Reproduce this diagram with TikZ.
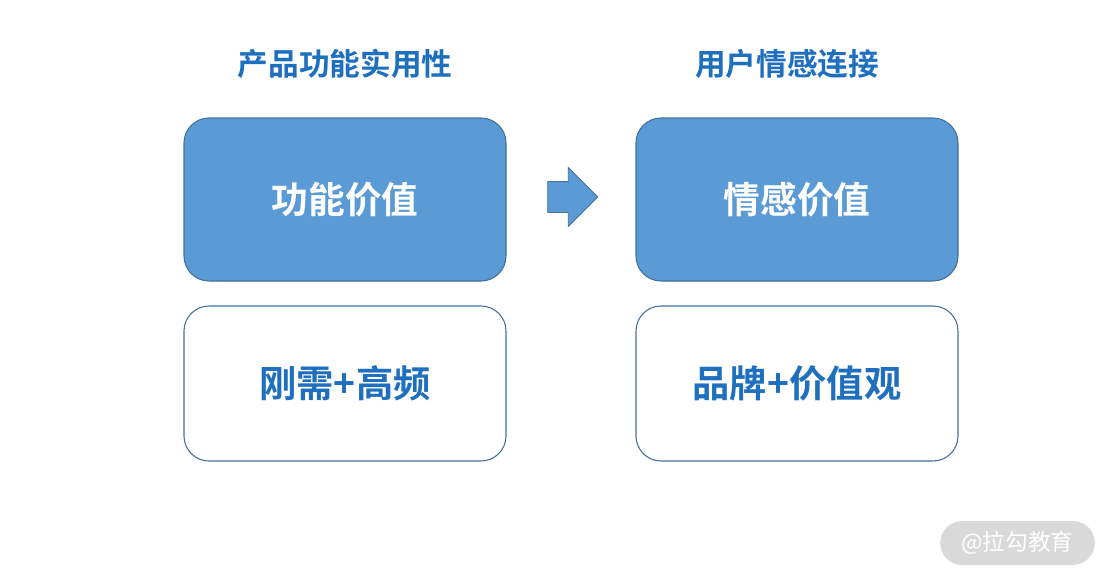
\documentclass[tikz,border=0pt]{standalone}
\usepackage{fontspec}
\newfontfamily\cjk{Noto Sans CJK SC}
\newfontfamily\cjkb{Noto Sans CJK SC Bold}
\usepackage{tikz}
\usetikzlibrary{shapes.arrows, positioning}
\definecolor{valblue}{HTML}{5B9BD5}
\definecolor{edgeblue}{HTML}{41719C}
\definecolor{txtblue}{HTML}{1F6FBF}
\definecolor{markgray}{HTML}{D9D9D9}

\begin{document}
\begin{tikzpicture}[x=0.75pt, y=-0.75pt,
    valbox/.style={draw=edgeblue, fill=valblue, line width=0.8pt, rounded corners=18.75pt,
        minimum width=241.5pt, minimum height=122.25pt, text=white, font=\cjkb\fontsize{27.5}{30}\selectfont},
    tagbox/.style={draw=edgeblue, fill=white, line width=0.8pt, rounded corners=18.75pt,
        minimum width=241.5pt, minimum height=116.25pt, text=txtblue, font=\cjkb\fontsize{28}{30}\selectfont},
    headline/.style={text=txtblue, font=\cjkb\fontsize{23}{26}\selectfont}]
                \useasboundingbox (0,0) rectangle (1110,579);
                % column titles
                \node[headline] (useT) at (345,64) {产品功能实用性};
                \node[headline] (emoT) at (787,64) {用户情感连接};
                % value boxes
                \node[valbox] (useV) at (345,199.5) {功能价值};
                \node[valbox] (emoV) at (797,199.5) {情感价值};
                \node[tagbox] (useK) at (345,383.5) {刚需+高频};
                \node[tagbox] (emoK) at (797,383.5) {品牌+价值观};
                % shift arrow
                \node[single arrow, draw=edgeblue, fill=valblue, line width=0.6pt, inner xsep=0pt, inner ysep=11.25pt,
                    minimum height=37.5pt, minimum width=43.5pt, single arrow head extend=10.5pt] (shift) at (565,197) {};
                % watermark
                \node[fill=markgray, rounded corners=16.5pt, minimum width=116pt, minimum height=33pt,
                    text=white, font=\cjk\fontsize{17}{20}\selectfont] (mark) at (1017.5,543) {@拉勾教育};
            \end{tikzpicture}
\end{document}
